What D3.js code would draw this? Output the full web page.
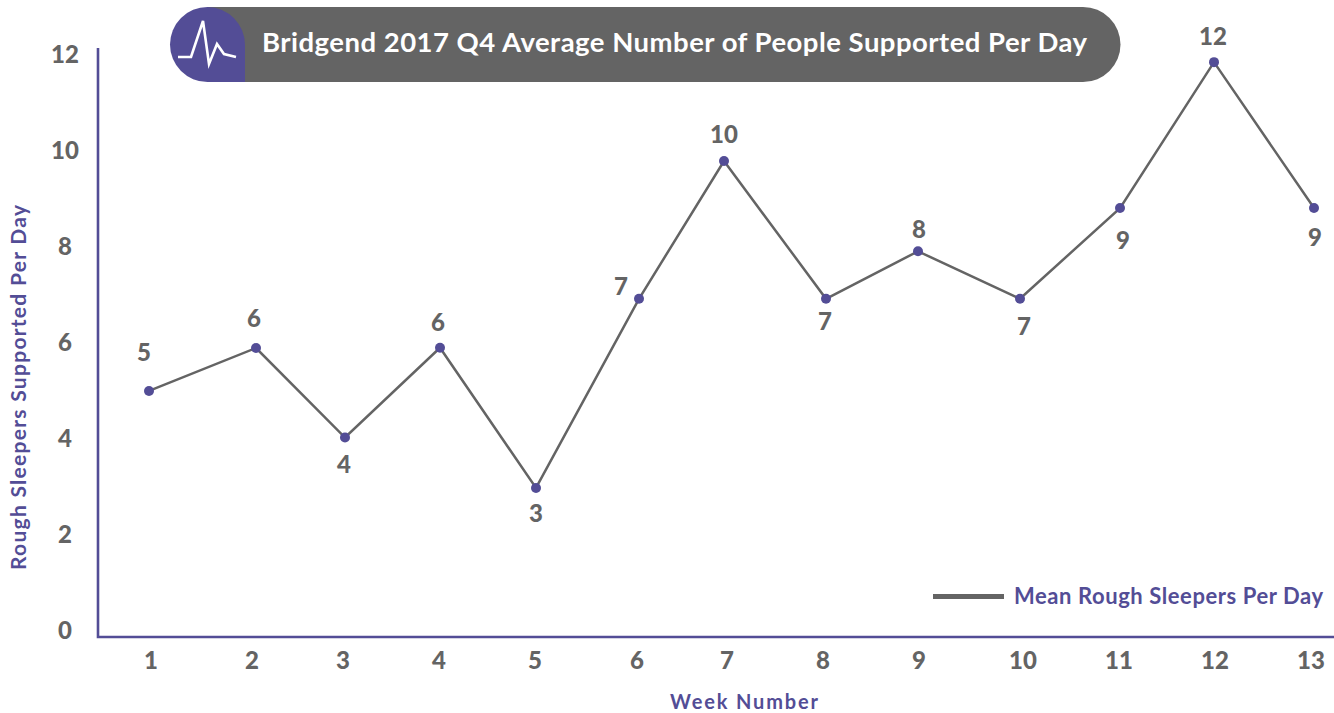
<!DOCTYPE html>
<html><head><meta charset="utf-8">
<script src="https://cdn.jsdelivr.net/npm/d3@7/dist/d3.min.js"></script>
<style>html,body{margin:0;padding:0;background:#fff}svg{display:block}text{font-family:Lato,"Open Sans",sans-serif}</style>
</head><body><svg id="c" width="1334" height="713"></svg>
<script>
const weeks=[1,2,3,4,5,6,7,8,9,10,11,12,13];
const means=[4.98,5.875,4.01,5.88,2.96,6.9,9.77,6.9,7.89,6.9,8.79,11.83,8.79];
const labels=["5","6","4","6","3","7","10","7","8","7","9","12","9"];
const labelPos=[[-5,-38],[-2,-29],[-1,27],[-2,-25],[0,26],[-18,-12],[0,-26],[-1,23],[1,-21],[4,28],[3,33],[-1,-25],[1,30]];
const tickLabels=[0,2,4,6,8,10,12];
const titleText="Bridgend 2017 Q4 Average Number of People Supported Per Day";
const legendText="Mean Rough Sleepers Per Day";
const xTickX=[151,252,343,439,535,637,727,823,919,1023,1119,1215,1311];
const pointX=[149,256,345,440,536,639,724,826,918,1020,1120,1214,1314];
const grey="#646464",purple="#534d96";
const svg=d3.select("#c");
const y=d3.scaleLinear().domain([0,12]).range([630,54]);
const x=d3.scaleOrdinal().domain(weeks).range(pointX);
const xt=d3.scaleOrdinal().domain(weeks).range(xTickX);
// axes
svg.append("path").attr("d","M98,48V637H1334").attr("fill","none").attr("stroke",purple).attr("stroke-width",2.6);
svg.selectAll(".yt").data(tickLabels).enter().append("text").attr("x",65).attr("y",d=>y(d)+9)
 .attr("text-anchor","middle").attr("font-size",24).attr("font-weight",900).attr("fill",grey).text(d=>d);
svg.selectAll(".xt").data(weeks).enter().append("text").attr("x",d=>xt(d)).attr("y",669)
 .attr("text-anchor","middle").attr("font-size",24).attr("font-weight",900).attr("fill",grey).text(d=>d);
svg.append("text").attr("transform","translate(26,387.5) rotate(-90)").attr("text-anchor","middle").attr("font-size",21).attr("font-weight",700).attr("fill",purple)
 .attr("textLength",365).attr("lengthAdjust","spacing").text("Rough Sleepers Supported Per Day");
svg.append("text").attr("x",744).attr("y",709).attr("text-anchor","middle").attr("font-size",20).attr("font-weight",700).attr("fill",purple)
 .attr("textLength",148).attr("lengthAdjust","spacing").text("Week Number");
// line
const line=d3.line().x((d,i)=>x(weeks[i])).y(d=>y(d));
svg.append("path").attr("d",line(means)).attr("fill","none").attr("stroke",grey).attr("stroke-width",2.5);
svg.selectAll(".pt").data(means).enter().append("circle").attr("cx",(d,i)=>x(weeks[i])).attr("cy",d=>y(d)).attr("r",5).attr("fill",purple);
svg.selectAll(".dl").data(means).enter().append("text")
 .attr("x",(d,i)=>x(weeks[i])+labelPos[i][0]).attr("y",(d,i)=>y(d)+labelPos[i][1]+8)
 .attr("text-anchor","middle").attr("font-size",24).attr("font-weight",900).attr("fill",grey).text((d,i)=>labels[i]);
// legend
svg.append("line").attr("x1",933).attr("x2",1004).attr("y1",596.5).attr("y2",596.5).attr("stroke",grey).attr("stroke-width",5);
svg.append("text").attr("x",1014).attr("y",604).attr("font-size",22).attr("font-weight",700).attr("fill",purple)
 .attr("textLength",309).attr("lengthAdjust","spacing").text(legendText);
// title
svg.append("path").attr("d","M208,7H1083A37.5,37.5 0 0 1 1083,82H208Z").attr("fill",grey);
svg.append("path").attr("d","M245,82H207.5A37.5,37.5 0 0 1 207.5,7A37.5,38 0 0 1 245,45Z").attr("fill",purple);
svg.append("path").attr("d","M178,57L191,57L203,21L209,64L217,44L224,54L236,57").attr("fill","none").attr("stroke","#fff").attr("stroke-width",2.6);
svg.append("text").attr("x",262).attr("y",52).attr("font-size",27.5).attr("font-weight",700).attr("fill","#fff")
 .attr("textLength",825).attr("lengthAdjust","spacing").text(titleText);
</script></body></html>
